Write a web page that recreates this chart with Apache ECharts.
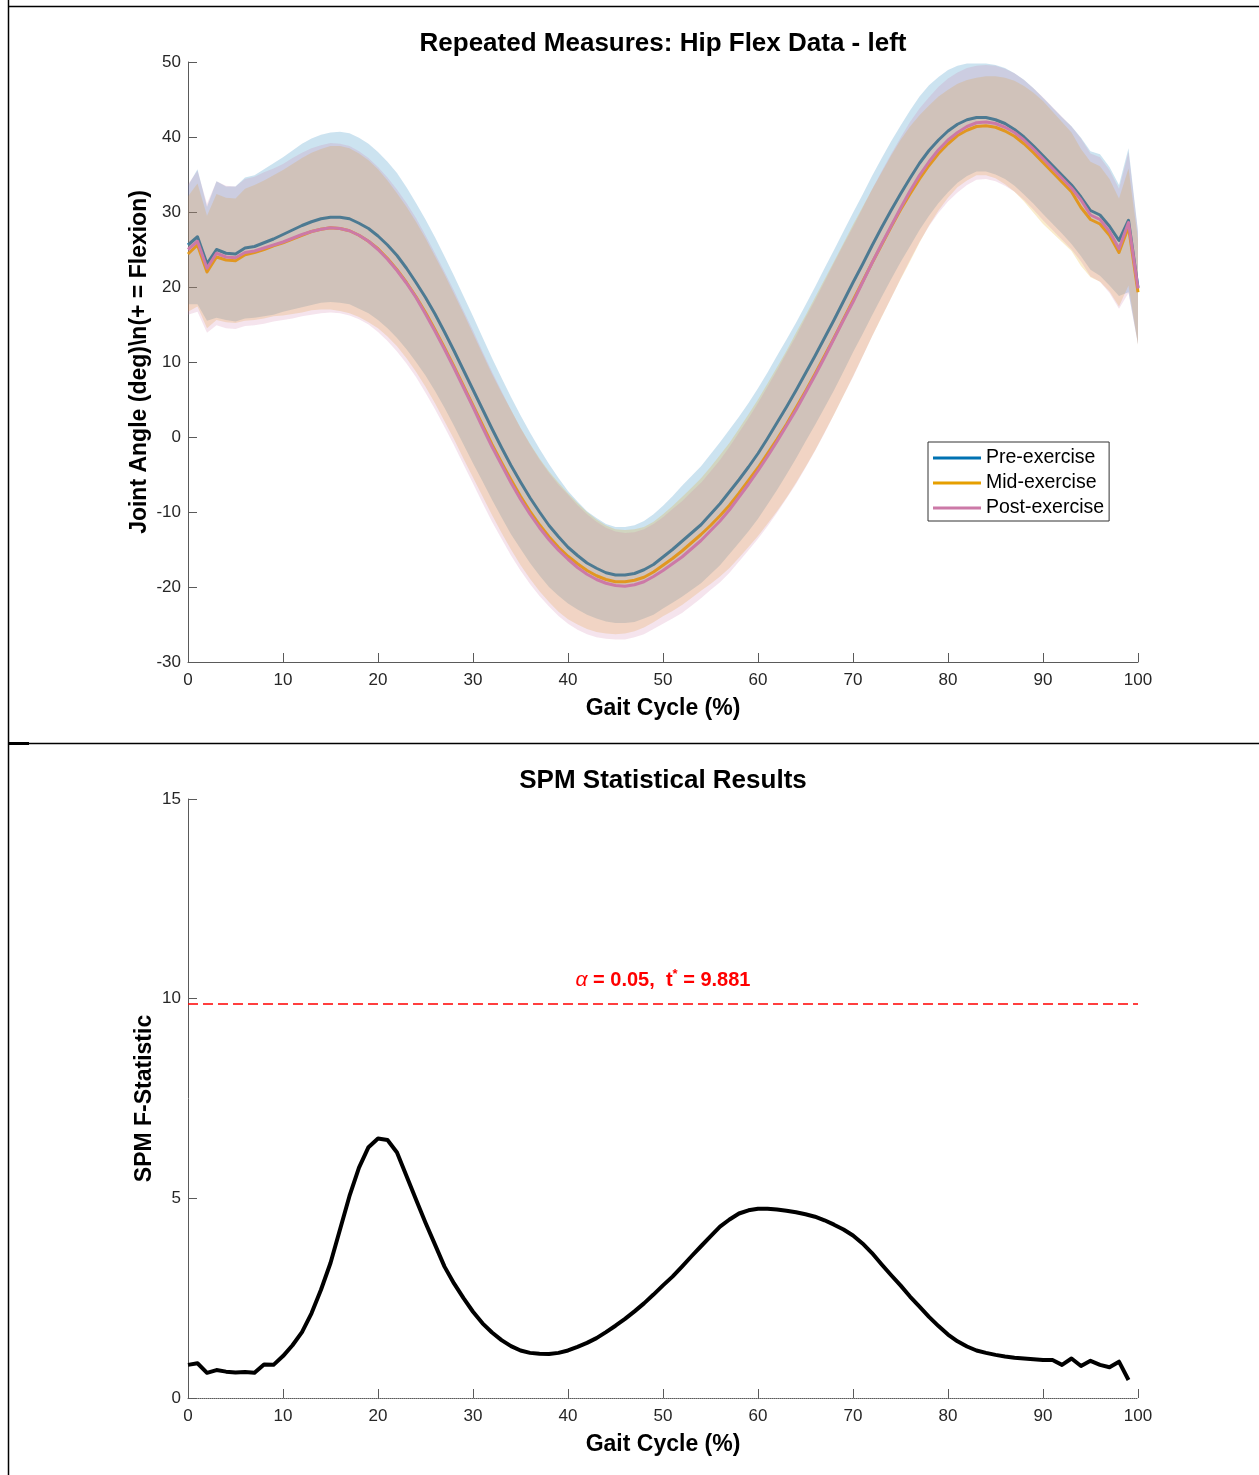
<!DOCTYPE html>
<html>
<head>
<meta charset="utf-8">
<title>Hip Flex Data - SPM</title>
<script src="https://cdn.jsdelivr.net/npm/echarts@6/dist/echarts.min.js"></script>
<style>
  html, body { margin: 0; padding: 0; background: #fff; }
  #chart { width: 1259px; height: 1475px; }
</style>
</head>
<body>
<div id="chart"></div>
<script>
// Gait cycle nodes (%)
const gaitCycle = Array.from({ length: 101 }, (_, i) => i);

// Mean hip flexion angle (deg) per condition
const preMean = [
  25.6, 26.7, 23.1, 25.0, 24.5, 24.4, 25.2, 25.4, 25.9, 26.4,
  27.0, 27.6, 28.2, 28.7, 29.1, 29.3, 29.3, 29.1, 28.5, 27.8,
  26.8, 25.6, 24.2, 22.5, 20.6, 18.6, 16.4, 14.0, 11.5, 8.9,
  6.3, 3.7, 1.1, -1.4, -3.8, -6.0, -8.1, -10.0, -11.8, -13.3,
  -14.7, -15.8, -16.8, -17.5, -18.1, -18.4, -18.4, -18.2, -17.7, -17.0,
  -16.0, -15.0, -13.9, -12.8, -11.7, -10.3, -8.9, -7.3, -5.7, -4.0,
  -2.2, -0.2, 1.9, 4.0, 6.2, 8.5, 10.8, 13.2, 15.6, 18.1,
  20.6, 23.0, 25.5, 27.9, 30.2, 32.4, 34.5, 36.5, 38.2, 39.6,
  40.8, 41.7, 42.3, 42.6, 42.6, 42.3, 41.8, 41.0, 40.0, 38.8,
  37.5, 36.2, 34.9, 33.6, 32.0, 30.2, 29.6, 28.1, 26.2, 28.9,
  19.9
];
const midMean = [
  24.4, 25.6, 22.0, 24.0, 23.6, 23.5, 24.3, 24.6, 25.0, 25.5,
  25.9, 26.4, 26.9, 27.4, 27.7, 27.9, 27.8, 27.5, 26.9, 26.1,
  25.1, 23.8, 22.3, 20.6, 18.7, 16.6, 14.3, 11.9, 9.4, 6.8,
  4.2, 1.6, -1.0, -3.4, -5.7, -7.9, -9.9, -11.7, -13.3, -14.7,
  -15.9, -16.9, -17.8, -18.5, -19.0, -19.3, -19.3, -19.1, -18.7, -18.0,
  -17.1, -16.2, -15.2, -14.1, -13.0, -11.8, -10.5, -9.1, -7.5, -5.8,
  -4.1, -2.2, -0.3, 1.7, 3.9, 6.1, 8.4, 10.8, 13.2, 15.7,
  18.2, 20.7, 23.2, 25.6, 28.0, 30.3, 32.4, 34.4, 36.2, 37.8,
  39.1, 40.2, 40.9, 41.4, 41.5, 41.3, 40.8, 40.1, 39.1, 37.9,
  36.6, 35.3, 34.0, 32.7, 30.6, 29.0, 28.4, 26.9, 24.6, 28.0,
  19.3
];
const postMean = [
  25.0, 26.1, 22.5, 24.5, 24.0, 23.9, 24.6, 24.8, 25.2, 25.6,
  26.0, 26.5, 27.0, 27.4, 27.7, 27.9, 27.8, 27.5, 26.9, 26.1,
  25.0, 23.7, 22.2, 20.5, 18.6, 16.4, 14.1, 11.7, 9.2, 6.6,
  4.0, 1.3, -1.3, -3.7, -6.1, -8.3, -10.3, -12.1, -13.7, -15.1,
  -16.3, -17.4, -18.3, -19.0, -19.5, -19.8, -19.9, -19.7, -19.3, -18.6,
  -17.8, -16.9, -16.0, -14.9, -13.8, -12.5, -11.2, -9.7, -8.0, -6.3,
  -4.5, -2.6, -0.6, 1.5, 3.6, 5.9, 8.2, 10.6, 13.1, 15.6,
  18.0, 20.6, 23.2, 25.7, 28.1, 30.5, 32.8, 34.9, 36.7, 38.3,
  39.6, 40.6, 41.4, 41.9, 42.0, 41.8, 41.3, 40.6, 39.6, 38.4,
  37.1, 35.8, 34.5, 33.2, 31.6, 29.6, 29.0, 27.4, 25.1, 28.6,
  19.8
];

// Standard deviation (deg) per condition
const preSD = [
  7.9, 9.0, 7.6, 9.1, 8.9, 9.0, 9.4, 9.5, 9.8, 10.1,
  10.3, 10.6, 10.9, 11.1, 11.2, 11.3, 11.4, 11.4, 11.4, 11.3,
  11.2, 11.1, 11.0, 10.8, 10.6, 10.4, 10.25, 10.1, 10.0, 9.9,
  9.8, 9.6, 9.45, 9.3, 9.15, 8.9, 8.7, 8.45, 8.2, 7.85,
  7.5, 7.2, 6.9, 6.7, 6.5, 6.4, 6.4, 6.45, 6.5, 6.7,
  6.85, 7.1, 7.4, 7.6, 7.8, 8.0, 8.2, 8.3, 8.4, 8.55,
  8.7, 8.8, 8.95, 9.0, 9.05, 9.1, 9.2, 9.3, 9.35, 9.35,
  9.3, 9.3, 9.3, 9.25, 9.2, 9.1, 9.05, 8.9, 8.7, 8.4,
  8.15, 7.8, 7.5, 7.2, 7.2, 7.3, 7.4, 7.5, 7.65, 7.7,
  7.75, 7.75, 7.75, 7.85, 7.9, 7.9, 8.1, 7.9, 7.4, 9.6,
  7.5
];
const midSD = [
  7.7, 8.2, 7.5, 8.4, 8.3, 8.3, 8.8, 9.0, 9.2, 9.4,
  9.7, 10.0, 10.3, 10.5, 10.7, 10.9, 11.0, 11.0, 10.9, 10.8,
  10.6, 10.4, 10.2, 10.1, 10.0, 9.9, 9.8, 9.8, 9.7, 9.7,
  9.6, 9.5, 9.4, 9.35, 9.3, 9.15, 9.0, 8.85, 8.7, 8.6,
  8.4, 8.1, 7.8, 7.5, 7.2, 7.0, 6.9, 6.8, 6.7, 6.7,
  6.8, 7.0, 7.2, 7.35, 7.5, 7.8, 8.1, 8.35, 8.6, 8.85,
  9.1, 9.35, 9.6, 9.8, 10.0, 10.1, 10.2, 10.2, 10.2, 10.15,
  10.1, 9.95, 9.8, 9.65, 9.5, 9.3, 9.0, 8.5, 8.0, 7.6,
  7.2, 6.9, 6.7, 6.5, 6.6, 6.8, 7.1, 7.4, 7.7, 8.0,
  8.2, 8.1, 8.0, 7.9, 7.8, 7.7, 7.7, 7.5, 7.2, 7.8,
  7.0
];
const postSD = [
  8.7, 9.4, 8.6, 9.6, 9.5, 9.5, 9.8, 9.9, 10.1, 10.2,
  10.4, 10.7, 10.9, 11.1, 11.2, 11.3, 11.3, 11.3, 11.2, 11.1,
  11.0, 10.9, 10.8, 10.7, 10.6, 10.5, 10.4, 10.35, 10.3, 10.25,
  10.2, 10.1, 10.0, 9.85, 9.7, 9.5, 9.3, 9.1, 8.9, 8.75,
  8.6, 8.3, 8.0, 7.7, 7.4, 7.2, 7.1, 7.0, 7.0, 7.0,
  7.1, 7.3, 7.45, 7.6, 7.7, 7.9, 8.15, 8.4, 8.6, 8.8,
  9.05, 9.3, 9.5, 9.7, 9.85, 10.0, 10.05, 10.1, 10.1, 10.05,
  10.0, 9.9, 9.8, 9.7, 9.6, 9.4, 9.2, 8.9, 8.6, 8.4,
  8.2, 8.0, 7.8, 7.6, 7.6, 7.7, 7.8, 7.9, 8.0, 8.1,
  8.2, 8.2, 8.2, 8.2, 8.2, 8.2, 8.3, 8.2, 8.0, 9.4,
  7.5
];

// SPM{F} statistic over nodes 0..99
const fStatistic = [
  0.83, 0.87, 0.63, 0.70, 0.66, 0.64, 0.65, 0.63, 0.84, 0.83,
  1.05, 1.32, 1.65, 2.12, 2.71, 3.38, 4.22, 5.06, 5.77, 6.28,
  6.50, 6.46, 6.15, 5.56, 4.97, 4.39, 3.84, 3.29, 2.87, 2.50,
  2.16, 1.87, 1.64, 1.45, 1.30, 1.19, 1.13, 1.11, 1.10, 1.13,
  1.19, 1.28, 1.38, 1.50, 1.65, 1.81, 1.98, 2.17, 2.37, 2.59,
  2.82, 3.04, 3.29, 3.55, 3.80, 4.05, 4.29, 4.47, 4.62, 4.70,
  4.74, 4.74, 4.72, 4.69, 4.65, 4.60, 4.54, 4.45, 4.34, 4.22,
  4.07, 3.87, 3.63, 3.35, 3.08, 2.82, 2.54, 2.29, 2.03, 1.80,
  1.59, 1.42, 1.29, 1.19, 1.13, 1.08, 1.04, 1.01, 0.99, 0.97,
  0.95, 0.95, 0.83, 0.99, 0.80, 0.93, 0.83, 0.77, 0.91, 0.45
];
const alphaLevel = 0.05;
const tCritical = 9.881;

const conditions = ['Pre-exercise', 'Mid-exercise', 'Post-exercise'];
const FONT = "'Liberation Sans', Arial, Helvetica, sans-serif";

const chart = echarts.init(document.getElementById('chart'), null, { renderer: 'canvas' });

function rowsOf(mean, sd) {
  return gaitCycle.map((x, i) => [x, mean[i] - sd[i], mean[i] + sd[i]]);
}

// Shaded ±SD band drawn as one polygon through the axis scales
function bandSeries(name, mean, sd, fill, z) {
  const rows = rowsOf(mean, sd);
  return {
    type: 'custom',
    name: name,
    xAxisIndex: 0,
    yAxisIndex: 0,
    z: z,
    silent: true,
    clip: true,
    encode: { x: 0, y: [1, 2] },
    data: rows,
    renderItem: function (params, api) {
      if (params.dataIndex !== 0) return null;
      const pts = [];
      for (let i = 0; i < rows.length; i++) pts.push(api.coord([rows[i][0], rows[i][2]]));
      for (let i = rows.length - 1; i >= 0; i--) pts.push(api.coord([rows[i][0], rows[i][1]]));
      return { type: 'polygon', shape: { points: pts }, style: { fill: fill } };
    }
  };
}

function meanSeries(name, mean, color, z) {
  return {
    type: 'line',
    name: name,
    xAxisIndex: 0,
    yAxisIndex: 0,
    z: z,
    showSymbol: false,
    symbol: 'none',
    color: color,
    lineStyle: { color: color, width: 3, join: 'round' },
    data: gaitCycle.map((x, i) => [x, mean[i]])
  };
}

const axisColor = '#5a5a5a';
const labelColor = '#262626';

function xAxisFor(gridIndex, dotted) {
  return {
    type: 'value', gridIndex: gridIndex, min: 0, max: 100, interval: 10,
    name: 'Gait Cycle (%)', nameLocation: 'middle', nameGap: 35,
    nameTextStyle: { fontFamily: FONT, fontSize: 23, fontWeight: 'bold', color: '#000' },
    axisLine: { onZero: false, lineStyle: { color: axisColor, width: 1, type: dotted ? [1, 1] : 'solid' } },
    axisTick: { inside: true, length: 9, lineStyle: { color: axisColor } },
    axisLabel: { fontFamily: FONT, fontSize: 17, color: labelColor, margin: 10 },
    splitLine: { show: false }
  };
}

const option = {
  animation: false,
  backgroundColor: '#fff',
  textStyle: { fontFamily: FONT },
  grid: [
    { left: 188, top: 62, width: 950, height: 600 },
    { left: 188, top: 799, width: 950, height: 599 }
  ],
  xAxis: [xAxisFor(0, false), xAxisFor(1, true)],
  yAxis: [
    {
      type: 'value', gridIndex: 0, min: -30, max: 50, interval: 10,
      name: 'Joint Angle (deg)\\n(+ = Flexion)', nameLocation: 'middle', nameGap: 37,
      nameMoveOverlap: false,
      nameTextStyle: { fontFamily: FONT, fontSize: 23, fontWeight: 'bold', color: '#000' },
      axisLine: { onZero: false, lineStyle: { color: axisColor, width: 1 } },
      axisTick: { inside: true, length: 9, lineStyle: { color: axisColor } },
      axisLabel: { fontFamily: FONT, fontSize: 17, color: labelColor, margin: 7 },
      splitLine: { show: false }
    },
    {
      type: 'value', gridIndex: 1, min: 0, max: 15, interval: 5,
      name: 'SPM F-Statistic', nameLocation: 'middle', nameGap: 32,
      nameMoveOverlap: false,
      nameTextStyle: { fontFamily: FONT, fontSize: 23, fontWeight: 'bold', color: '#000' },
      axisLine: { onZero: false, lineStyle: { color: axisColor, width: 1 } },
      axisTick: { inside: true, length: 9, lineStyle: { color: axisColor } },
      axisLabel: { fontFamily: FONT, fontSize: 17, color: labelColor, margin: 7 },
      splitLine: { show: false }
    }
  ],
  legend: {
    data: conditions,
    orient: 'vertical',
    left: 928, top: 442,
    z: 20,
    icon: 'rect',
    itemWidth: 48, itemHeight: 3, itemGap: 3,
    padding: [5, 5, 2, 5],
    backgroundColor: '#fff',
    borderColor: '#333', borderWidth: 1, borderRadius: 0,
    textStyle: { fontFamily: FONT, fontSize: 19.5, color: '#000', lineHeight: 22 },
    selectedMode: false
  },
  graphic: [
    { type: 'text', x: 663, y: 44, z: 100, style: { text: 'Repeated Measures: Hip Flex Data - left', font: 'bold 26px ' + FONT, fill: '#000', textAlign: 'center', textVerticalAlign: 'middle' } },
    { type: 'text', x: 663, y: 781, z: 100, style: { text: 'SPM Statistical Results', font: 'bold 26px ' + FONT, fill: '#000', textAlign: 'center', textVerticalAlign: 'middle' } },
    // page frame
    { type: 'line', z: 100, shape: { x1: 8.5, y1: 0, x2: 8.5, y2: 1475 }, style: { stroke: '#000', lineWidth: 1.5 } },
    { type: 'line', z: 100, shape: { x1: 8, y1: 6.5, x2: 1259, y2: 6.5 }, style: { stroke: '#000', lineWidth: 1.5 } },
    { type: 'line', z: 100, shape: { x1: 8, y1: 743.5, x2: 1259, y2: 743.5 }, style: { stroke: '#000', lineWidth: 1.5 } },
    { type: 'rect', z: 100, shape: { x: 8, y: 742, width: 21, height: 3 }, style: { fill: '#000' } }
  ],
  series: [
    bandSeries('Pre-exercise SD', preMean, preSD, 'rgba(0,114,178,0.2)', 1),
    meanSeries('Pre-exercise', preMean, '#0072B2', 2),
    bandSeries('Mid-exercise SD', midMean, midSD, 'rgba(230,159,0,0.2)', 3),
    meanSeries('Mid-exercise', midMean, '#E69F00', 4),
    bandSeries('Post-exercise SD', postMean, postSD, 'rgba(204,121,167,0.2)', 5),
    meanSeries('Post-exercise', postMean, '#CC79A7', 6),
    {
      type: 'line',
      name: 'SPM{F}',
      xAxisIndex: 1,
      yAxisIndex: 1,
      z: 3,
      showSymbol: false,
      symbol: 'none',
      color: '#000',
      lineStyle: { color: '#000', width: 4, join: 'round' },
      data: fStatistic.map((f, i) => [gaitCycle[i], f]),
      markLine: {
        silent: true,
        symbol: 'none',
        lineStyle: { color: '#ff0000', width: 1.5, type: [10, 5] },
        label: {
          show: true,
          position: 'insideMiddleTop',
          distance: 10,
          formatter: '{a|α}{b| = ' + alphaLevel.toFixed(2) + ',  t}{s|*}{b| = ' + tCritical.toFixed(3) + '}',
          rich: {
            a: { fontFamily: FONT, fontSize: 21, fontStyle: 'italic', color: '#ff0000' },
            b: { fontFamily: FONT, fontSize: 20, fontWeight: 'bold', color: '#ff0000' },
            s: { fontFamily: FONT, fontSize: 13, fontWeight: 'bold', color: '#ff0000', padding: [0, 0, 13, 0] }
          }
        },
        data: [{ yAxis: tCritical }]
      }
    }
  ]
};

chart.setOption(option);
</script>
</body>
</html>
